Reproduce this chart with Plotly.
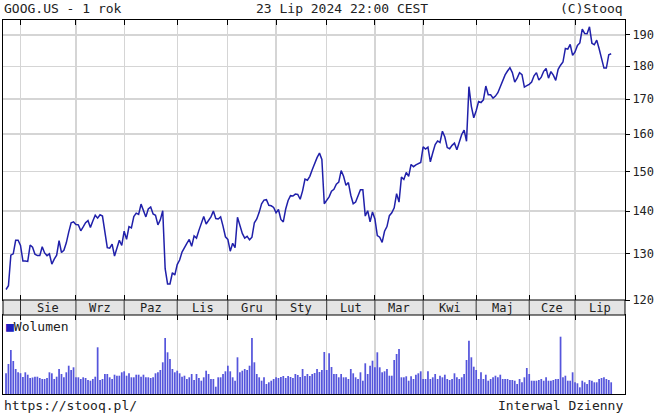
import math
import plotly.graph_objects as go

# ---- data -------------------------------------------------------------
# GOOG.US daily closes, 24 Jul 2023 .. 23 Jul 2024 (trading-day order)
close_jul23 = [122.2, 123.0, 129.7, 130.0, 133.1, 133.1]
close_aug23 = [131.9, 128.4, 128.4, 128.3, 132.0, 131.5, 129.9, 129.6, 129.6, 131.6,
               130.2, 129.6, 130.0, 127.7, 128.8, 129.7, 133.0, 130.3, 130.8, 132.5,
               135.0, 137.2, 137.4]
close_sep23 = [136.8, 136.7, 135.3, 136.2, 137.2, 137.7, 136.1, 137.6, 139.0, 138.3,
               139.1, 138.8, 134.6, 131.4, 131.3, 132.2, 129.5, 131.5, 133.1, 131.9]
close_oct23 = [135.2, 133.3, 136.3, 136.0, 138.7, 139.5, 139.2, 141.7, 140.3, 138.6,
               140.5, 141.0, 139.3, 139.0, 136.7, 137.9, 140.1, 126.7, 123.4, 123.4,
               125.8, 125.3]
close_nov23 = [127.6, 128.6, 130.4, 131.5, 132.4, 133.3, 131.7, 134.1, 133.6, 135.4,
               136.9, 138.7, 136.9, 137.9, 138.6, 140.0, 138.2, 138.1, 138.6, 136.4,
               133.9]
close_dec23 = [133.3, 130.6, 132.4, 131.4, 138.5, 136.6, 134.7, 133.6, 134.0, 133.2,
               133.8, 137.2, 138.1, 139.7, 141.8, 142.7, 142.8, 141.4, 141.3, 140.9]
close_jan24 = [139.6, 140.4, 138.0, 137.4, 140.5, 142.6, 143.8, 143.7, 144.2, 144.1,
               142.9, 145.0, 148.0, 147.7, 148.7, 150.4, 152.1, 153.6, 154.8, 153.1,
               141.8]
close_feb24 = [142.7, 143.5, 144.9, 145.4, 146.7, 147.2, 150.2, 148.7, 146.4, 147.1,
               143.9, 141.8, 142.2, 143.8, 145.3, 145.3, 138.8, 140.1, 137.4, 139.8]
close_mar24 = [138.1, 134.2, 133.8, 132.6, 135.2, 136.3, 138.9, 139.6, 140.8, 144.3,
               142.2, 148.5, 147.9, 149.7, 148.7, 151.8, 151.2, 151.7, 151.9, 152.3]
close_apr24 = [156.5, 155.9, 156.4, 152.5, 154.9, 157.1, 158.1, 157.7, 160.8, 159.2,
               156.3, 156.0, 156.9, 157.5, 155.7, 158.0, 159.9, 161.1, 158.0, 173.7,
               167.9, 164.6]
close_may24 = [166.6, 169.3, 169.0, 169.8, 173.9, 171.3, 171.3, 170.3, 170.9, 171.9,
               173.9, 175.4, 177.3, 178.5, 179.5, 178.0, 175.1, 176.3, 178.0, 177.4,
               173.6, 174.0]
close_jun24 = [174.4, 175.1, 177.0, 178.0, 175.7, 176.6, 178.4, 179.3, 176.3, 178.3,
               177.2, 175.6, 179.0, 180.3, 181.3, 185.6, 185.4, 186.9, 183.4]
close_jul24 = [184.5, 186.6, 187.4, 191.9, 190.5, 190.4, 192.7, 187.3, 186.8, 188.3,
               185.5, 182.6, 179.4, 179.4, 183.6, 183.9]

# daily volume (millions of shares, approximate)
volume = [20.7, 30, 44, 33, 25, 21.7,
          20.8, 17, 21.7, 19.3, 16, 16.5, 17.3, 17.3, 16, 15, 15, 16, 21.7, 20.7, 15, 17.3,
          25, 20, 16.7, 21.7, 28.3, 24, 26.7,
          16.7, 16.7, 15, 16.7, 16, 14, 13.3, 15, 17.3, 46.7, 14, 15, 20, 20, 16.7, 15,
          19.3, 18.3, 18.3, 21.7,
          22.7, 18.3, 20.7, 16.7, 16.7, 19.3, 19.3, 17.3, 19.3, 16.7, 16.7, 16, 16.7, 20.7,
          21.7, 24, 31.7, 56, 41.7, 35, 25, 21.7,
          23.3, 20.7, 17.3, 18.3, 15, 16.7, 20, 14, 20, 16, 13.3, 16.7, 23.3, 20, 15, 15,
          7.3, 16.7, 16.7, 20, 22.7,
          28.3, 22.7, 16.7, 13.3, 36.7, 21.7, 23.3, 25, 24, 28.3, 56, 31.7, 20, 16.7, 13.3,
          16.7, 10, 11.7, 13.3, 15,
          16.7, 16, 17, 18, 16, 18, 17, 16, 20, 19, 17, 25, 18, 20, 18, 20, 21, 25, 22, 24,
          42,
          24, 40.7, 27, 20, 20, 16.7, 20, 16.7, 16.7, 15, 25, 20.7, 16.7, 15, 21.7, 13.3,
          30.7, 20, 28.3, 33.3,
          26.7, 41.7, 26.7, 21.7, 22.7, 25, 18.3, 18.3, 34, 40, 45, 16.7, 16.7, 17.7, 13.3,
          17.7, 15, 19.3, 20.7, 22.7,
          15, 15, 22.7, 15, 16.7, 20, 15, 18.3, 16.7, 19.3, 15, 14, 15, 20.7, 16.7, 15,
          16.7, 20, 34, 53.3, 36.7, 27.3,
          24, 15, 21.7, 15, 19.3, 13.3, 15, 16.7, 18.3, 16.7, 19.3, 15, 15, 15, 14, 14,
          13.3, 10, 15, 11.7, 16.7, 26,
          20, 13.3, 13.3, 13.3, 14, 15, 13.3, 16.7, 13.3, 13.3, 14, 15, 15, 57.3, 16.7,
          18.3, 13.3, 13.3, 21.7,
          11.7, 10.7, 6.7, 13.3, 11.7, 10, 14, 13.3, 11.7, 11.7, 15, 16, 16.7, 15, 14, 11.7]

month_labels = ["Sie", "Wrz", "Paz", "Lis", "Gru", "Sty", "Lut", "Mar", "Kwi", "Maj", "Cze", "Lip"]
month_start_idx = [6, 29, 49, 71, 92, 112, 133, 153, 173, 195, 217, 236]
price_ticks = [120, 130, 140, 150, 160, 170, 180, 190]

title_left = "GOOG.US - 1 rok"
title_mid = "23 Lip 2024 22:00 CEST"
title_right = "(C)Stooq"
foot_left = "https://stooq.pl/"
foot_right = "Interwal Dzienny"
vol_label = "Wolumen"

# ---- figure -----------------------------------------------------------
close = (close_jul23 + close_aug23 + close_sep23 + close_oct23 + close_nov23 + close_dec23 +
         close_jan24 + close_feb24 + close_mar24 + close_apr24 + close_may24 + close_jun24 +
         close_jul24)
idx = list(range(len(close)))
vol = volume[:len(close)]

W, H = 655, 414
FONT = "DejaVu Sans Mono"
px_l, px_r = 3, 625
main_top, main_bot = 20, 300
vol_top, vol_bot = 315, 394
X_RANGE = [-1.257, 256.73]


def py(p):
    return 1 - p / H


GRID = "#d5d5d5"
LINE = "#2020aa"

fig = go.Figure()
fig.add_trace(go.Scatter(x=idx, y=close, mode="lines",
                         line=dict(color=LINE, width=1.5), xaxis="x", yaxis="y",
                         hoverinfo="skip"))
fig.add_trace(go.Bar(x=idx, y=vol, marker=dict(color="#5555dc", line=dict(width=0)),
                     xaxis="x2", yaxis="y2", hoverinfo="skip"))

axis_common = dict(showline=True, linecolor="#000", linewidth=1, zeroline=False,
                   automargin=False)

fig.update_layout(
    width=W, height=H, margin=dict(l=0, r=0, t=0, b=0, autoexpand=False),
    paper_bgcolor="white", plot_bgcolor="white", showlegend=False,
    bargap=0.28,
    font=dict(family=FONT, size=12, color="#222"),
    xaxis=dict(domain=[px_l / W, px_r / W], range=X_RANGE, tickvals=month_start_idx,
               showticklabels=False, ticks="inside", ticklen=5, tickcolor="#000",
               mirror="ticks", showgrid=True, gridcolor=GRID, gridwidth=1.3,
               anchor="y", **axis_common),
    yaxis=dict(domain=[py(main_bot), py(main_top)], type="log",
               range=[math.log10(120), math.log10(195.0)],
               tickvals=price_ticks, ticktext=[str(v) for v in price_ticks],
               side="right", ticks="outside", ticklen=4, tickcolor="#000",
               mirror=True, showgrid=True, gridcolor=GRID, gridwidth=1.3,
               tickfont=dict(family=FONT, size=12, color="#222"),
               anchor="x", **axis_common),
    xaxis2=dict(domain=[px_l / W, px_r / W], range=X_RANGE, tickvals=month_start_idx,
                showticklabels=False, ticks="inside", ticklen=5, tickcolor="#000",
                side="top", mirror=True, showgrid=True, gridcolor=GRID, gridwidth=1.3,
                anchor="y2", **axis_common),
    yaxis2=dict(domain=[py(vol_bot), py(vol_top)], range=[0, 79],
                showticklabels=False, ticks="", showgrid=False, mirror=True,
                anchor="x2", **axis_common),
)

# month strip between panels
fig.add_shape(type="rect", xref="paper", yref="paper", x0=px_l / W, x1=px_r / W,
              y0=py(vol_top), y1=py(main_bot), fillcolor="#e4e4e4",
              line=dict(color="#000", width=1), layer="above")
for s in month_start_idx:
    fig.add_shape(type="line", xref="x", yref="paper", x0=s, x1=s,
                  y0=py(vol_top), y1=py(main_bot), line=dict(color="#333", width=1))
bounds = month_start_idx + [X_RANGE[1]]
for i, lab in enumerate(month_labels):
    fig.add_annotation(x=(bounds[i] + bounds[i + 1]) / 2, y=py((main_bot + vol_top) / 2),
                       xref="x", yref="paper", text=lab, showarrow=False,
                       font=dict(family=FONT, size=12, color="#222"),
                       xanchor="center", yanchor="middle")

# header / footer texts
ann = dict(xref="paper", yref="paper", showarrow=False,
           font=dict(family=FONT, size=13, color="#222"), yanchor="middle")
fig.add_annotation(x=2 / W, y=py(9), text=title_left, xanchor="left", **ann)
fig.add_annotation(x=342 / W, y=py(9), text=title_mid, xanchor="center", **ann)
fig.add_annotation(x=625 / W, y=py(9), text=title_right, xanchor="right", **ann)
fig.add_annotation(x=2 / W, y=py(405), text=foot_left, xanchor="left", **ann)
fig.add_annotation(x=625 / W, y=py(405), text=foot_right, xanchor="right", **ann)
fig.add_annotation(x=4 / W, y=py(326), xref="paper", yref="paper", showarrow=False,
                   text="<span style='color:#2020c0'>■</span>" + vol_label,
                   xanchor="left", yanchor="middle",
                   font=dict(family=FONT, size=13, color="#222"))

fig.write_html("out.html", config={"displayModeBar": False, "staticPlot": True},
               post_script="document.body.style.margin='0';"
                           "document.body.style.overflow='hidden';")
